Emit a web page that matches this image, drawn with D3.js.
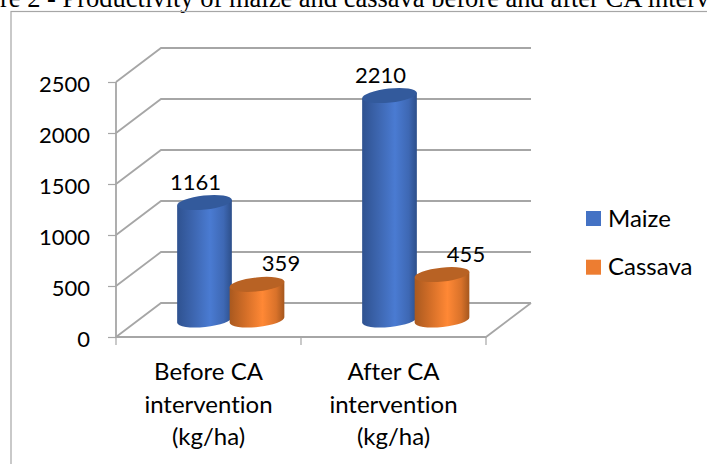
<!DOCTYPE html>
<html>
<head>
<meta charset="utf-8">
<script src="https://cdn.jsdelivr.net/npm/d3@7"></script>
<style>
  html, body { margin: 0; padding: 0; background: #fff; overflow: hidden; }
  text { font-family: Lato, "Open Sans", sans-serif; fill: #000; font-variant-ligatures: none; }
</style>
</head>
<body>
<svg id="chart" width="707" height="464"></svg>
<script>
const figureTitle = "Figure 2 - Productivity of maize and cassava before and after CA intervention";
const categories = ["Before CA intervention (kg/ha)", "After CA intervention (kg/ha)"];
const categoryLines = [["Before CA", "intervention", "(kg/ha)"], ["After CA", "intervention", "(kg/ha)"]];
const seriesNames = ["Maize", "Cassava"];
const maize = [1161, 2210];
const cassava = [359, 455];
const yTicks = [0, 500, 1000, 1500, 2000, 2500];

const svg = d3.select("#chart");
const gridColor = "#a6a6a6";
const numberSize = "22px";
const wordSize = "24px";

// front corner of the 3d box and how far the back wall is pushed
const depthX = 45, depthY = -34;
const y = d3.scaleLinear().domain([0, 2500]).range([337, 82]);
const x = d3.scaleBand().domain(categories).range([116, 486]);
const xSeries = d3.scaleBand().domain(seriesNames).range([0, 105]);

const color = d3.scaleOrdinal().domain(seriesNames).range(["#4472c4", "#ed7d31"]);
const ramps = {
  Maize: ["#2f5290", "#3d66b0", "#4a7bd2", "#3e68b4", "#2d4f8a"],
  Cassava: ["#a9591f", "#d56f28", "#ff8835", "#d9722a", "#a5571e"]
};
const topColor = { Maize: "#335a9c", Cassava: "#b86224" };

svg.append("text")
  .attr("x", -48.6)
  .attr("y", 6.5)
  .style("font-family", '"Liberation Serif", serif')
  .style("font-size", "26.5px")
  .text(figureTitle);

svg.append("rect")
  .attr("x", 11).attr("y", 11.5)
  .attr("width", 720).attr("height", 470)
  .attr("fill", "none")
  .attr("stroke", "#a6a6a6")
  .attr("stroke-width", 1.2);

const defs = svg.append("defs");
seriesNames.forEach(name => {
  const g = defs.append("linearGradient").attr("id", "grad" + name);
  ramps[name].forEach((c, i) => {
    g.append("stop").attr("offset", [0, 0.3, 0.6, 0.85, 1][i]).attr("stop-color", c);
  });
});

// gridlines: side wall then back wall
const grid = svg.append("g").attr("fill", "none").attr("stroke", gridColor).attr("stroke-width", 1.8);
yTicks.forEach(t => {
  grid.append("path")
    .attr("d", `M116,${y(t)}L${116 + depthX},${y(t) + depthY}H${486 + depthX}`);
});
// floor edges
grid.append("path").attr("d", `M116,${y(0)}H486L${486 + depthX},${y(0) + depthY}`);
grid.append("path").attr("d", `M116,${y(2500)}V${y(0)}`);

const yAxis = svg.append("g")
  .attr("transform", "translate(116,0)")
  .call(d3.axisLeft(y).tickValues(yTicks).tickSize(8).tickPadding(18).tickFormat(d3.format("d")));
yAxis.select(".domain").remove();
yAxis.selectAll("line").attr("stroke", gridColor).attr("stroke-width", 1.2);
yAxis.selectAll("text").style("font-size", numberSize).attr("dy", "0.41em");

const xTickVals = [116, 301, 486];
svg.append("g").selectAll("line").data(xTickVals).enter().append("line")
  .attr("x1", d => d).attr("x2", d => d)
  .attr("y1", y(0)).attr("y2", y(0) + 8)
  .attr("stroke", gridColor).attr("stroke-width", 1.2);

categories.forEach((cat, i) => {
  svg.append("text")
    .attr("text-anchor", "middle")
    .style("font-size", wordSize)
    .selectAll("tspan")
    .data(categoryLines[i])
    .enter().append("tspan")
    .attr("x", x(cat) + x.bandwidth() / 2)
    .attr("y", (d, j) => 380 + j * 32.5)
    .text(d => d);
});

// cylinders
const rx = 27.5, ry = 7, tilt = -6;
const dx = rx * Math.cos(tilt * Math.PI / 180), dy = rx * Math.sin(tilt * Math.PI / 180);
const topLift = 16, bottomLift = 17;
const rows = categories.flatMap((cat, i) => [
  { cat, name: "Maize", value: maize[i] },
  { cat, name: "Cassava", value: cassava[i] }
]);

const bars = svg.selectAll(".bar").data(rows).enter().append("g")
  .attr("class", "bar")
  .attr("transform", d => `translate(${x(d.cat) + 62.25 + xSeries(d.name) + xSeries.bandwidth() / 2},0)`);

bars.append("path")
  .attr("fill", d => `url(#grad${d.name})`)
  .attr("d", d => {
    const top = y(d.value) - topLift, bot = y(0) - bottomLift;
    return `M${-dx},${top - dy}L${-dx},${bot - dy}A${rx},${ry} ${tilt} 0 0 ${dx},${bot + dy}L${dx},${top + dy}Z`;
  });

bars.append("ellipse")
  .attr("rx", rx).attr("ry", ry)
  .attr("fill", d => topColor[d.name])
  .attr("transform", d => `translate(0,${y(d.value) - topLift}) rotate(${tilt})`);

bars.append("text")
  .attr("text-anchor", "middle")
  .attr("x", d => d.name === "Maize" ? -9 : 24)
  .attr("y", d => y(d.value) - topLift - 13)
  .style("font-size", numberSize)
  .text(d => d.value);

// legend
const legend = svg.selectAll(".legend").data(seriesNames).enter().append("g")
  .attr("class", "legend")
  .attr("transform", (d, i) => `translate(586,${211 + i * 48.7})`);
legend.append("rect").attr("width", 15).attr("height", 15).attr("fill", d => color(d));
legend.append("text").attr("x", 22).attr("y", 15.5).style("font-size", wordSize).text(d => d);
</script>
</body>
</html>
